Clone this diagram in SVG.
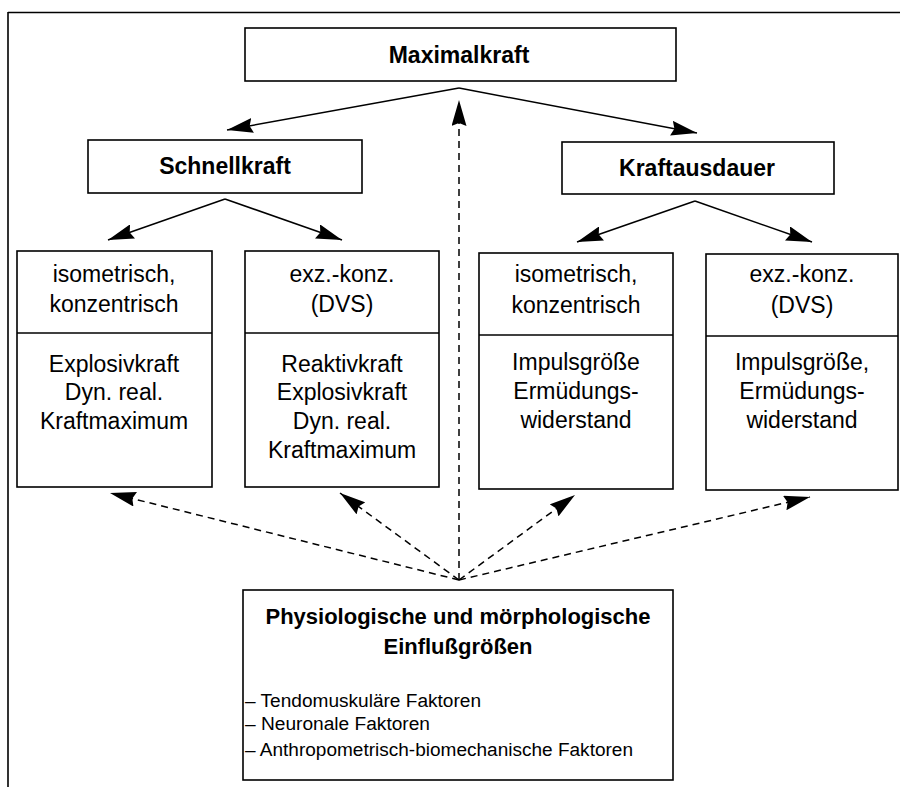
<svg xmlns="http://www.w3.org/2000/svg" width="900" height="787" viewBox="0 0 900 787">
  <defs>
    <marker id="ah" markerUnits="userSpaceOnUse" markerWidth="27" markerHeight="15" refX="26" refY="7.5" orient="auto">
      <path d="M0,0 L26,7.5 L0,15 L3,7.5 z" fill="#000"/>
    </marker>
    <style>
      .box { fill: #fff; stroke: #000; stroke-width: 1.6; }
      .div { stroke: #000; stroke-width: 1.6; }
      .frame { stroke: #000; stroke-width: 1.6; fill: none; }
      .sol { stroke: #000; stroke-width: 1.5; fill: none; marker-end: url(#ah); }
      .dsh { stroke: #000; stroke-width: 1.5; fill: none; stroke-dasharray: 7 5; marker-end: url(#ah); }
      .t { font-family: "Liberation Sans", Arial, sans-serif; font-size: 23px; fill: #000; text-anchor: middle; }
      .tb { font-family: "Liberation Sans", Arial, sans-serif; font-size: 23px; font-weight: bold; fill: #000; text-anchor: middle; }
      .tt { font-family: "Liberation Sans", Arial, sans-serif; font-size: 22px; font-weight: bold; fill: #000; text-anchor: middle; }
      .tl { font-family: "Liberation Sans", Arial, sans-serif; font-size: 18px; fill: #000; }
    </style>
  </defs>
  <rect x="0" y="0" width="900" height="787" fill="#fff"/>
  <g id="frame">
    <path class="frame" d="M8,12.5 H900 M8,12 V787"/>
  </g>
  <g id="connectors">
    <line class="sol" x1="459" y1="88" x2="227" y2="130"/>
    <line class="sol" x1="459" y1="88" x2="697" y2="133"/>
    <line class="sol" x1="225" y1="199" x2="108" y2="240"/>
    <line class="sol" x1="225" y1="199" x2="342" y2="240"/>
    <line class="sol" x1="695" y1="201" x2="577" y2="242"/>
    <line class="sol" x1="695" y1="201" x2="812" y2="242"/>
    <line class="dsh" x1="459" y1="580" x2="459" y2="100"/>
    <line class="dsh" x1="459" y1="580" x2="110" y2="493"/>
    <line class="dsh" x1="459" y1="580" x2="340" y2="493"/>
    <line class="dsh" x1="459" y1="580" x2="575" y2="495"/>
    <line class="dsh" x1="459" y1="580" x2="810" y2="497"/>
  </g>
  <g id="maximalkraft">
    <rect class="box" x="245" y="28" width="431" height="53"/>
    <text class="tb" x="459" y="63">Maximalkraft</text>
  </g>
  <g id="schnellkraft">
    <rect class="box" x="88" y="140" width="274" height="53"/>
    <text class="tb" x="225" y="174">Schnellkraft</text>
  </g>
  <g id="kraftausdauer">
    <rect class="box" x="562" y="142" width="272" height="52"/>
    <text class="tb" x="697" y="176">Kraftausdauer</text>
  </g>
  <g id="box1">
    <rect class="box" x="17" y="251" width="195" height="236"/>
    <line class="div" x1="17" y1="333" x2="212" y2="333"/>
    <text class="t" x="114" y="282">isometrisch,</text>
    <text class="t" x="114" y="312">konzentrisch</text>
    <text class="t" x="114" y="372">Explosivkraft</text>
    <text class="t" x="114" y="400">Dyn. real.</text>
    <text class="t" x="114" y="429">Kraftmaximum</text>
  </g>
  <g id="box2">
    <rect class="box" x="245" y="251" width="194" height="236"/>
    <line class="div" x1="245" y1="333" x2="439" y2="333"/>
    <text class="t" x="342" y="282">exz.-konz.</text>
    <text class="t" x="342" y="312">(DVS)</text>
    <text class="t" x="342" y="372">Reaktivkraft</text>
    <text class="t" x="342" y="400">Explosivkraft</text>
    <text class="t" x="342" y="429">Dyn. real.</text>
    <text class="t" x="342" y="458">Kraftmaximum</text>
  </g>
  <g id="box3">
    <rect class="box" x="479" y="253" width="194" height="236"/>
    <line class="div" x1="479" y1="335" x2="673" y2="335"/>
    <text class="t" x="576" y="282">isometrisch,</text>
    <text class="t" x="576" y="313">konzentrisch</text>
    <text class="t" x="576" y="370">Impulsgröße</text>
    <text class="t" x="576" y="399">Ermüdungs-</text>
    <text class="t" x="576" y="428">widerstand</text>
  </g>
  <g id="box4">
    <rect class="box" x="706" y="254" width="192" height="236"/>
    <line class="div" x1="706" y1="336" x2="898" y2="336"/>
    <text class="t" x="802" y="282">exz.-konz.</text>
    <text class="t" x="802" y="313">(DVS)</text>
    <text class="t" x="802" y="370">Impulsgröße,</text>
    <text class="t" x="802" y="399">Ermüdungs-</text>
    <text class="t" x="802" y="428">widerstand</text>
  </g>
  <g id="einfluss">
    <rect class="box" x="243" y="590" width="430" height="190"/>
    <text class="tt" x="458" y="624">Physiologische und mörphologische</text>
    <text class="tt" x="458" y="654">Einflußgrößen</text>
    <text class="tl" x="245" y="707" textLength="236" lengthAdjust="spacingAndGlyphs">– Tendomuskuläre Faktoren</text>
    <text class="tl" x="245" y="730" textLength="185" lengthAdjust="spacingAndGlyphs">– Neuronale Faktoren</text>
    <text class="tl" x="245" y="756" textLength="388" lengthAdjust="spacingAndGlyphs">– Anthropometrisch-biomechanische Faktoren</text>
  </g>
</svg>
